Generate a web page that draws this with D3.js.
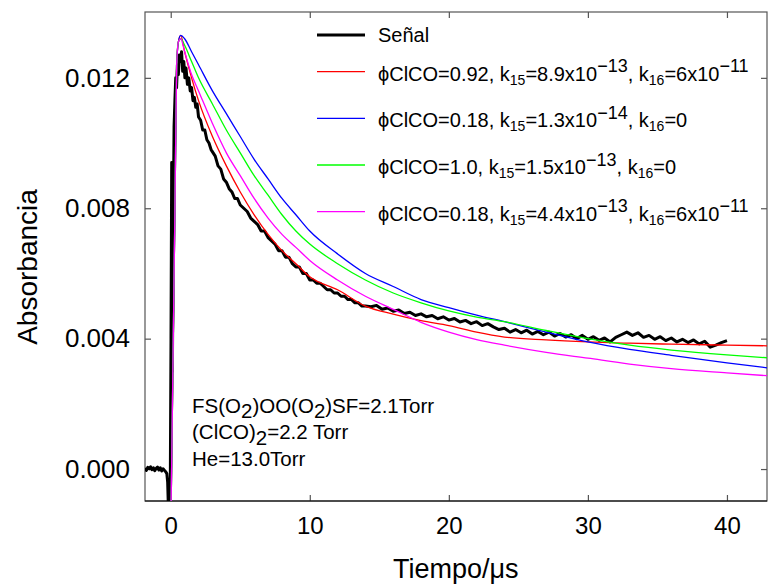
<!DOCTYPE html>
<html>
<head>
<meta charset="utf-8">
<script src="https://cdn.jsdelivr.net/npm/d3@7"></script>
<style>
body { margin: 0; background: #fff; }
text { font-family: Arial, "Liberation Sans", sans-serif; fill: #000; }
</style>
</head>
<body>
<script>
// señal medida: tiempo (us) y absorbancia
var signalT = [-1.85,-1.75,-1.65,-1.55,-1.45,-1.35,-1.25,-1.15,-1.05,-0.95,-0.85,-0.75,-0.65,-0.55,-0.45,-0.35,-0.28,-0.22,-0.16,-0.1,-0.04,
  0.02,0.07,0.12,0.18,0.24,0.3,0.36,0.42,0.48,0.55,0.62,0.7,0.78,0.86,0.94,1.02,1.1,1.2,1.3,1.4,1.5,1.6,1.7,1.8,1.9,2.0,
  2.15,2.3,2.45,2.6,2.75,2.9,3.05,3.2,3.4,3.6,3.8,4.0,4.2,4.4,4.6,4.8,
  5.0,5.25,5.5,5.75,6.0,6.25,6.5,6.75,7.0,7.25,7.5,7.75,8.0,8.25,8.5,8.75,9.0,9.25,9.5,9.75,10.0,10.25,10.5,10.75,
  11.0,11.25,11.5,11.75,12.0,12.25,12.5,12.75,13.0,13.25,13.5,13.75,14.0,
  14.4,14.8,15.2,15.6,16.0,16.4,16.8,17.2,17.6,18.0,18.4,18.8,19.2,19.6,20.0,20.4,20.8,21.2,21.6,22.0,22.4,22.8,23.2,23.6,
  24.0,24.4,24.8,25.2,25.6,26.0,26.4,26.8,27.2,27.6,28.0,28.4,28.8,29.2,29.6,30.0,30.4,30.8,31.2,31.6,32.0,32.4,32.8,33.2,
  33.6,34.0,34.4,34.8,35.2,35.6,36.0,36.4,36.8,37.2,37.6,38.0,38.4,38.8,39.2,39.6,40.0];
var signalA = [0.00003,-0.00004,0.00005,0.00001,0.00007,-0.00002,0.00004,-0.00005,0.00002,0.00006,-0.00003,0.00004,-0.00006,0.00001,-0.00004,-0.00009,-0.00014,-0.0004,-0.0013,-0.0013,-0.0013,
  0.0040,0.0094,0.0030,0.0075,0.0105,0.0113,0.0120,0.0117,0.0124,0.0121,0.0127,0.0125,0.0128,0.0122,0.0125,0.0120,0.0123,0.0118,0.0120,0.0116,0.0117,0.0113,0.0114,0.0111,0.0112,0.0108,
  0.0107,0.0104,0.0104,0.0101,0.0100,0.0098,0.0097,0.0096,0.0093,0.0092,0.0089,0.0088,0.0086,0.0085,0.0083,0.0083,
  0.0081,0.0080,0.0079,0.0077,0.0076,0.0075,0.0073,0.0073,0.0071,0.0070,0.0069,0.0067,0.0067,0.0065,0.0065,0.0063,0.0062,0.0062,0.0060,0.0060,0.0058,0.0058,0.0057,0.0057,
  0.0056,0.0055,0.0055,0.0054,0.0054,0.0053,0.0053,0.0052,0.0052,0.0051,0.0051,0.0050,0.0050,
  0.00498,0.00502,0.00490,0.00494,0.00484,0.00488,0.00477,0.00481,0.00471,0.00476,0.00467,0.00471,0.00461,0.00467,0.00457,0.00462,0.00451,0.00456,0.00446,0.00452,0.00440,0.00446,0.00436,0.00428,
  0.00432,0.00420,0.00428,0.00418,0.00426,0.00414,0.00422,0.00412,0.00420,0.00408,0.00416,0.00405,0.00412,0.00400,0.00410,0.00398,0.00406,0.00395,0.00402,0.00390,0.00404,0.00412,0.00420,0.00410,
  0.00418,0.00404,0.00410,0.00398,0.00406,0.00394,0.00402,0.00390,0.00398,0.00388,0.00396,0.00384,0.00392,0.00374,0.00380,0.00388,0.00394];

// curvas simuladas, mismos tiempos para todas
var fitT = [0,0.07,0.31,0.43,0.55,0.72,1,1.5,2,3,4,5,6,7,8,9,10,12,14,16,18,20,22,24,27,30,33,36,40,43];
var fitRed     = [-0.002,0.0002,0.0082,0.0124,0.0131,0.0133,0.0128,0.0120,0.0113,0.0102,0.0093,0.0085,0.0078,0.0072,0.0067,0.0063,0.0059,0.0055,0.0050,0.00475,0.00455,0.00440,0.00420,0.00405,0.00396,0.00390,0.00386,0.00383,0.00380,0.00378];
var fitBlue    = [-0.002,0.0002,0.0082,0.0124,0.0131,0.0133,0.0132,0.0128,0.0124,0.0116,0.0109,0.0102,0.0095,0.0089,0.0083,0.0078,0.0073,0.0066,0.0060,0.0056,0.0052,0.00495,0.00472,0.00452,0.00420,0.00390,0.00367,0.00349,0.00326,0.00310];
var fitGreen   = [-0.002,0.0002,0.0082,0.0124,0.0131,0.0132,0.0130,0.0125,0.0120,0.0112,0.0104,0.0097,0.0090,0.0084,0.0078,0.0073,0.0069,0.0063,0.0058,0.0054,0.0051,0.00485,0.00466,0.00452,0.00425,0.00400,0.00380,0.00365,0.00350,0.00341];
var fitMagenta = [-0.002,0.0002,0.0082,0.0124,0.0131,0.0132,0.0128,0.0121,0.0116,0.0106,0.0097,0.0090,0.0083,0.0077,0.0072,0.0068,0.0064,0.0058,0.0053,0.0049,0.0045,0.0042,0.00397,0.00380,0.00358,0.00340,0.00322,0.00308,0.00295,0.00286];

var xTicks = [0, 10, 20, 30, 40];
var yTicks = [0, 0.004, 0.008, 0.012];

var legendColors = ["#000000", "#ff0000", "#0000ff", "#00ff00", "#ff00ff"];
var legendLabels = [
  [["Señal", ""]],
  [["ϕClCO=0.92, k", ""], ["15", "sub"], ["=8.9x10", ""], ["−13", "sup"], [", k", ""], ["16", "sub"], ["=6x10", ""], ["−11", "sup"]],
  [["ϕClCO=0.18, k", ""], ["15", "sub"], ["=1.3x10", ""], ["−14", "sup"], [", k", ""], ["16", "sub"], ["=0", ""]],
  [["ϕClCO=1.0, k", ""], ["15", "sub"], ["=1.5x10", ""], ["−13", "sup"], [", k", ""], ["16", "sub"], ["=0", ""]],
  [["ϕClCO=0.18, k", ""], ["15", "sub"], ["=4.4x10", ""], ["−13", "sup"], [", k", ""], ["16", "sub"], ["=6x10", ""], ["−11", "sup"]]
];
var noteLines = [
  [["FS(O", ""], ["2", "low"], [")OO(O", ""], ["2", "low"], [")SF=2.1Torr", ""]],
  [["(ClCO)", ""], ["2", "low"], ["=2.2 Torr", ""]],
  [["He=13.0Torr", ""]]
];

var W = 769, H = 586;
var margin = {top: 12, right: 2, bottom: 85, left: 145},
    width = W - margin.left - margin.right,
    height = H - margin.top - margin.bottom;

var svg = d3.select("body").append("svg")
    .attr("width", W)
    .attr("height", H);
var g = svg.append("g")
    .attr("transform", "translate(" + margin.left + "," + margin.top + ")");

var x = d3.scaleLinear().domain([-1.85, 42.88]).range([0, width]);
var y = d3.scaleLinear().domain([-0.00098, 0.01402]).range([height, 0]);

g.append("clipPath").attr("id", "plot")
  .append("rect").attr("width", width).attr("height", height);

// ejes con marcas hacia dentro
function styleAxis(size) {
  return function(sel) {
    sel.select(".domain").remove();
    sel.selectAll(".tick line").attr("stroke", "#555").attr("stroke-width", 1.2);
    sel.selectAll(".tick text").style("font-size", size + "px").attr("font-family", null);
  };
}
g.append("g").attr("transform", "translate(0," + height + ")")
  .call(d3.axisBottom(x).tickValues(xTicks).tickSize(-6).tickPadding(16).tickFormat(d3.format("d")))
  .call(styleAxis(24));
g.append("g")
  .call(d3.axisTop(x).tickValues(xTicks).tickSize(-6).tickFormat(""))
  .call(styleAxis(24));
g.append("g")
  .call(d3.axisLeft(y).tickValues(yTicks).tickSize(-6).tickPadding(15).tickFormat(d3.format(".3f")))
  .call(styleAxis(26));
g.append("g").attr("transform", "translate(" + width + ",0)")
  .call(d3.axisRight(y).tickValues(yTicks).tickSize(-6).tickFormat(""))
  .call(styleAxis(26));

g.append("rect")
  .attr("width", width).attr("height", height)
  .attr("fill", "none").attr("stroke", "#555").attr("stroke-width", 1.2);
g.append("line")
  .attr("x1", 0).attr("x2", width).attr("y1", height).attr("y2", height)
  .attr("stroke", "#000").attr("stroke-width", 1.2);

var plot = g.append("g").attr("clip-path", "url(#plot)");

var signalLine = d3.line()
    .x(function(d, i) { return x(signalT[i]); })
    .y(function(d) { return y(d); });
plot.append("path")
  .datum(signalA)
  .attr("d", signalLine)
  .attr("fill", "none").attr("stroke", "#000").attr("stroke-width", 3)
  .attr("stroke-linejoin", "round");

var fitLine = d3.line()
    .x(function(d, i) { return x(fitT[i]); })
    .y(function(d) { return y(d); })
    .curve(d3.curveMonotoneX);
[fitRed, fitBlue, fitGreen, fitMagenta].forEach(function(s, k) {
  plot.append("path")
    .datum(s)
    .attr("d", fitLine)
    .attr("fill", "none").attr("stroke", legendColors[k + 1]).attr("stroke-width", 1.3);
});

// texto con subindices y superindices
function richText(parent, tx, ty, parts, size) {
  var t = parent.append("text").attr("x", tx).attr("y", ty).style("font-size", size + "px");
  var cur = 0;
  parts.forEach(function(p) {
    var off = 0, fs = size;
    if (p[1] === "sub") { off = size * 0.2; fs = size * 0.7; }
    if (p[1] === "sup") { off = -size * 0.42; fs = size * 0.9; }
    if (p[1] === "low") { off = size * 0.28; fs = size; }
    t.append("tspan").attr("dy", off - cur).style("font-size", fs + "px").text(p[0]);
    cur = off;
  });
  return t;
}

// leyenda
var legendY = [35, 71.7, 118.3, 165, 211.7];
legendLabels.forEach(function(parts, i) {
  svg.append("line")
    .attr("x1", 317).attr("x2", 365)
    .attr("y1", legendY[i]).attr("y2", legendY[i])
    .attr("stroke", legendColors[i]).attr("stroke-width", i === 0 ? 3 : 1.3);
  richText(svg, 378, legendY[i] + (i === 0 ? 7 : 9), parts, 20);
});

// condiciones
noteLines.forEach(function(parts, i) {
  richText(svg, 192, 412.5 + i * 26.8, parts, 20.5);
});

// titulos de ejes
svg.append("text")
  .attr("text-anchor", "middle")
  .attr("transform", "translate(" + (margin.left + x(20.5)) + ",578)")
  .style("font-size", "27px")
  .text("Tiempo/μs");
svg.append("text")
  .attr("text-anchor", "middle")
  .attr("transform", "translate(37,267)rotate(-90)")
  .style("font-size", "28px")
  .text("Absorbancia");
</script>
</body>
</html>
